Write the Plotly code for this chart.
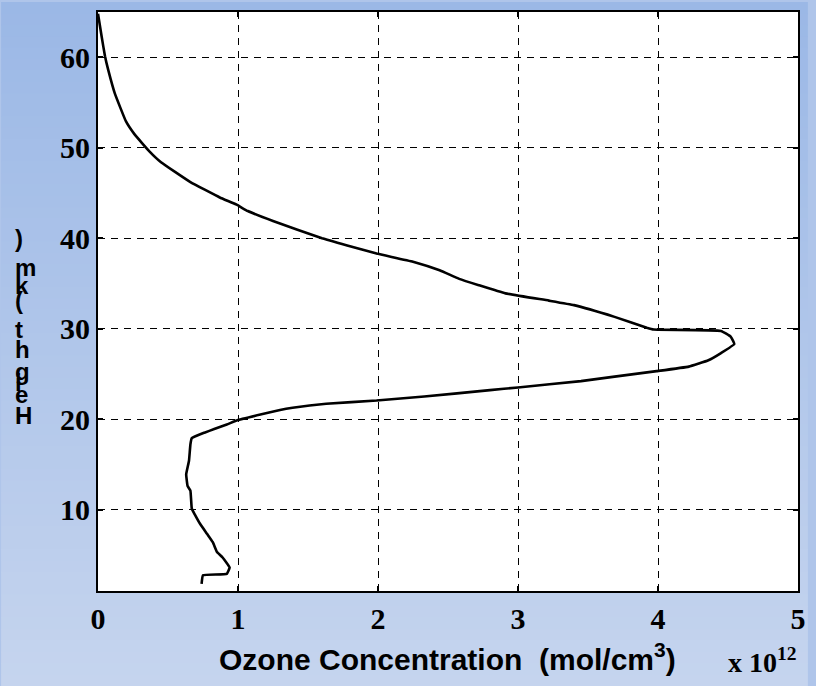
import plotly.graph_objects as go

# Ozone concentration (units of 1e12 mol/cm^3) vs height (km)
ozone = [0.74, 0.75, 0.92, 0.94, 0.89, 0.85, 0.82, 0.78, 0.73, 0.69, 0.67, 0.66, 0.64, 0.63,
         0.65, 0.66, 0.67, 0.76, 0.83, 0.92, 0.99, 1.16, 1.30, 1.39, 1.63, 1.99, 2.33, 2.80,
         3.00, 3.45, 3.69, 3.99, 4.22, 4.36, 4.45, 4.545, 4.52, 4.45, 3.97, 3.92, 3.69, 3.40,
         3.22, 2.91, 2.72, 2.58, 2.44, 2.25, 1.99, 1.78, 1.60, 1.25, 1.07, 0.99, 0.87,
         0.66, 0.45, 0.367, 0.26, 0.20, 0.12, 0.073, 0.05, 0.026, 0.0]
height = [1.8, 2.75, 2.9, 3.6, 4.7, 5.3, 6.4, 7.3, 8.4, 9.5, 10.1, 12.1, 12.6, 13.9,
          15.4, 17.2, 17.9, 18.5, 18.9, 19.4, 19.85, 20.5, 21.0, 21.25, 21.7, 22.05, 22.5, 23.2,
          23.5, 24.2, 24.7, 25.3, 25.8, 26.5, 27.3, 28.3, 29.1, 29.75, 29.9, 30.1, 31.3, 32.6,
          33.1, 33.9, 34.8, 35.5, 36.45, 37.4, 38.3, 39.2, 40.0, 41.9, 43.0, 43.7, 44.5,
          46.2, 48.4, 49.6, 51.5, 52.9, 56.0, 58.6, 60.1, 62.3, 64.8]

x_ticks = [0, 1, 2, 3, 4, 5]
y_ticks = [10, 20, 30, 40, 50, 60]
x_title = "<b>Ozone Concentration  (mol/cm<sup>3</sup>)</b>"
x_scale = "<b>x 10<sup>12</sup></b>"
y_title = "Height (km)"

W, H = 816, 686
L, R, T, B = 98, 10, 10, 95
PW, PH = W - L - R, H - T - B


def px(xp):
    return (xp - L) / PW


def py(yp):
    return (H - B - yp) / PH


fig = go.Figure()
fig.add_trace(go.Scatter(x=ozone, y=height, mode="lines",
                         line=dict(color="black", width=2.6, shape="spline", smoothing=0.3),
                         showlegend=False, hoverinfo="skip"))

shapes = []
# vertical gradient background (darker blue at top, lighter at bottom)
n = 60
top_c = (155, 184, 230)
bot_c = (197, 212, 238)
for i in range(n):
    t = i / (n - 1)
    c = tuple(int(round(top_c[k] + (bot_c[k] - top_c[k]) * t)) for k in range(3))
    shapes.append(dict(type="rect", xref="paper", yref="paper",
                       x0=px(0), x1=px(W), y0=py(i * H / n), y1=py((i + 1) * H / n + 1),
                       fillcolor=f"rgb{c}", line=dict(width=0), layer="below"))
# white plot area
shapes.append(dict(type="rect", xref="paper", yref="paper", x0=0, x1=1, y0=0, y1=1,
                   fillcolor="white", line=dict(width=0), layer="below"))

annotations = [
    dict(text=x_title, xref="paper", yref="paper", x=px(451), y=py(657),
         showarrow=False, xanchor="center", yanchor="middle",
         font=dict(family="Liberation Sans", size=30, color="black")),
    dict(text=x_scale, xref="paper", yref="paper", x=px(770), y=py(661),
         showarrow=False, xanchor="center", yanchor="middle",
         font=dict(family="Liberation Serif", size=28, color="black")),
]
# stacked, upright characters of the y title (drawn bottom-to-top as in the reference)
chars = list(y_title)
ypos = {0: 415, 1: 394, 2: 382, 3: 371, 4: 349, 5: 329, 7: 299, 8: 284, 9: 266, 10: 237}
for i, ch in enumerate(chars):
    if ch == " ":
        continue
    annotations.append(dict(text=f"<b>{ch}</b>", xref="paper", yref="paper",
                            x=px(12), y=py(ypos[i]), showarrow=False,
                            xanchor="left", yanchor="middle",
                            font=dict(family="Liberation Sans", size=24, color="black")))

axis_common = dict(
    showgrid=True, gridcolor="black", gridwidth=1, griddash="7px,6px",
    showline=True, linecolor="black", linewidth=2, mirror="ticks",
    ticks="inside", ticklen=5, tickwidth=2, tickcolor="black",
    tickfont=dict(family="Liberation Serif", size=30, color="black"),
    zeroline=False, fixedrange=True,
)

fig.update_layout(
    width=W, height=H,
    margin=dict(l=L, r=R, t=T, b=B, pad=0),
    paper_bgcolor="rgb(175,197,234)",
    plot_bgcolor="white",
    shapes=shapes,
    annotations=annotations,
    font=dict(family="Liberation Serif", color="black"),
    xaxis=dict(range=[0, 5], tickvals=x_ticks, ticktext=[f"<b>{v}</b>" for v in x_ticks],
               **axis_common),
    yaxis=dict(range=[1, 65], tickvals=y_ticks, ticktext=[f"<b>{v}</b>" for v in y_ticks],
               **axis_common),
)

fig.write_html("out.html")
